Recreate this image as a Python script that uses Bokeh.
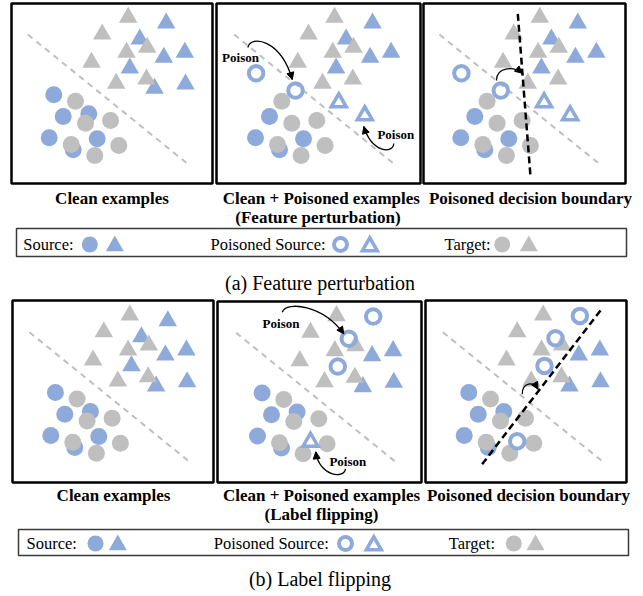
from bokeh.plotting import figure
from bokeh.models import Range1d, Arrow, NormalHead
from bokeh.embed import file_html
from bokeh.resources import INLINE
from bokeh.core.properties import value

BLUE = "#8eaadb"
GRAY = "#bfbfbf"
SERIF = value("Liberation Serif")

# ---------------- data (panel-local pixel units) ----------------
target_tri_x = [116.7, 90.7, 115.0, 135.7, 80.0, 104.7, 135.0]
target_tri_y = [14.0, 30.7, 49.0, 44.0, 59.0, 80.0, 75.7]
source_tri_x = [154.7, 128.3, 152.3, 173.3, 118.3, 143.0, 174.0]
source_tri_y = [19.7, 35.7, 54.0, 49.0, 64.7, 85.0, 80.7]
source_circ_x = [42.3, 51.7, 77.3, 37.7, 85.7, 61.7]
source_circ_y = [91.3, 113.0, 110.3, 134.3, 135.3, 146.3]
target_circ_x = [64.0, 74.0, 99.0, 59.7, 107.3, 83.3]
target_circ_y = [97.7, 119.7, 117.0, 141.0, 142.0, 152.0]
clean_boundary_x = [16.3, 177.3]
clean_boundary_y = [31.0, 161.3]

# feature perturbation
fp_removed_circ = [0, 2]
fp_removed_tri = [5, 6]
fp_ring_circ_x = [38.3, 77.7]
fp_ring_circ_y = [69.7, 87.0]
fp_ring_tri_x = [121.0, 147.0]
fp_ring_tri_y = [99.0, 112.0]
fp_boundary_x = [94.7, 107.4]
fp_boundary_y = [10.3, 173.0]

# label flipping
lf_removed_tri = [0, 1, 4]
lf_removed_circ = [4]
lf_ring_circ_x = [153.4, 129.0, 118.0]
lf_ring_circ_y = [14.7, 37.0, 64.7]
lf_ring_tri_x = [90.7]
lf_ring_tri_y = [140.0]
lf_boundary_x = [174.0, 53.3]
lf_boundary_y = [9.3, 166.0]

# curved arrows: (x0, y0, cx0, cy0, cx1, cy1, x1, y1)
fp_arrows = [(30, 44, 33, 31, 63, 36, 74.5, 76), (176, 140, 175, 151, 154, 149, 146, 123)]
fp_shift_arrow = (73.5, 77, 73, 64, 90, 62, 99, 69.7)
lf_arrows = [(62.4, 10.4, 67, -1, 103, 3, 124, 32), (125.7, 167, 124, 178, 99, 174, 96, 150)]
lf_shift_arrow = (95.7, 93, 96, 81, 107, 80, 111.5, 88)
fp_poison_labels = [(22.7, 54.3), (178.0, 131.3)]
lf_poison_labels = [(61.2, 22.0), (128.0, 159.4)]

titles_top = ["Clean examples", "Clean + Poisoned examples", "Poisoned decision boundary"]
subtitle_top = "(Feature perturbation)"
subtitle_bottom = "(Label flipping)"
caption_top = "(a)  Feature perturbation"
caption_bottom = "(b)  Label flipping"
legend_labels = ["Source:", "Poisoned Source:", "Target:"]

# ---------------- layout ----------------
frames = [(11, 212, 3, 183), (216, 420, 3, 183), (423, 625, 3, 183),
          (12, 213, 300, 482), (217, 421, 301, 482), (425, 626, 300, 482)]
origins = [(11, 3), (217.3, 3), (422.6, 3), (12.6, 300.7), (219.3, 301.3), (426, 300.7)]

p = figure(width=643, height=596, x_range=Range1d(0, 643), y_range=Range1d(596, 0),
           output_backend="svg", toolbar_location=None, min_border=0,
           x_axis_location=None, y_axis_location=None,
           styles={"position": "absolute", "left": "0px", "top": "0px"})
p.grid.visible = False
p.outline_line_color = None
p.background_fill_color = "white"


def keep(xs, ys, removed):
    return ([x for i, x in enumerate(xs) if i not in removed],
            [y for i, y in enumerate(ys) if i not in removed])


def sh(xs, ys, o):
    return [x + o[0] for x in xs], [y + o[1] for y in ys]


def scene(o, rem_c=(), rem_t=(), ring_c=None, ring_t=None):
    x, y = sh(clean_boundary_x, clean_boundary_y, o)
    p.line(x, y, line_color=GRAY, line_width=2, line_dash="6 5")
    cx, cy = keep(source_circ_x, source_circ_y, rem_c)
    x, y = sh(cx, cy, o)
    p.scatter(x, y, marker="circle", size=17, fill_color=BLUE, line_color=None)
    tx, ty = keep(source_tri_x, source_tri_y, rem_t)
    x, y = sh(tx, ty, o)
    p.scatter(x, y, marker="triangle", size=18.5, fill_color=BLUE, line_color=None)
    x, y = sh(target_circ_x, target_circ_y, o)
    p.scatter(x, y, marker="circle", size=17, fill_color=GRAY, line_color=None)
    x, y = sh(target_tri_x, target_tri_y, o)
    p.scatter(x, y, marker="triangle", size=18.5, fill_color=GRAY, line_color=None)
    if ring_c is not None:
        x, y = sh(ring_c[0], ring_c[1], o)
        p.scatter(x, y, marker="circle", size=14.5, fill_color=None, line_color=BLUE, line_width=4)
    if ring_t is not None:
        x, y = sh(ring_t[0], ring_t[1], o)
        p.scatter(x, y, marker="triangle", size=15, fill_color=None, line_color=BLUE,
                  line_width=3.5, line_join="miter")


def curve(o, a, lw=1.3):
    x0, y0, cx0, cy0, cx1, cy1, x1, y1 = a
    ox, oy = o
    p.bezier(x0=[x0 + ox], y0=[y0 + oy], x1=[x1 + ox], y1=[y1 + oy],
             cx0=[cx0 + ox], cy0=[cy0 + oy], cx1=[cx1 + ox], cy1=[cy1 + oy],
             line_color="black", line_width=lw)
    dx, dy = x1 - cx1, y1 - cy1
    n = (dx * dx + dy * dy) ** 0.5
    dx, dy = dx / n, dy / n
    p.add_layout(Arrow(x_start=x1 + ox - 3 * dx, y_start=y1 + oy - 3 * dy,
                       x_end=x1 + ox, y_end=y1 + oy, line_width=lw,
                       end=NormalHead(size=7, fill_color="black", line_color="black", line_width=1)))


def poison_text(o, labels):
    p.text([l[0] + o[0] for l in labels], [l[1] + o[1] for l in labels], text=["Poison"] * len(labels),
           text_font=SERIF, text_font_style="bold", text_font_size="13px",
           text_align="center", text_baseline="middle", text_color="black")


# frames
for (l, r, t, b) in frames:
    p.quad(left=[l], right=[r], top=[t], bottom=[b], fill_color=None,
           line_color="black", line_width=2.5)

# row 1: feature perturbation
scene(origins[0])
scene(origins[1], fp_removed_circ, fp_removed_tri, (fp_ring_circ_x, fp_ring_circ_y), (fp_ring_tri_x, fp_ring_tri_y))
for a in fp_arrows:
    curve(origins[1], a)
poison_text(origins[1], fp_poison_labels)
scene(origins[2], fp_removed_circ, fp_removed_tri, (fp_ring_circ_x, fp_ring_circ_y), (fp_ring_tri_x, fp_ring_tri_y))
x, y = sh(fp_boundary_x, fp_boundary_y, origins[2])
p.line(x, y, line_color="black", line_width=2.5, line_dash="7 4")
curve(origins[2], fp_shift_arrow, lw=1.2)

# row 2: label flipping
scene(origins[3])
scene(origins[4], lf_removed_circ, lf_removed_tri, (lf_ring_circ_x, lf_ring_circ_y), (lf_ring_tri_x, lf_ring_tri_y))
for a in lf_arrows:
    curve(origins[4], a)
poison_text(origins[4], lf_poison_labels)
scene(origins[5], lf_removed_circ, lf_removed_tri,
      (lf_ring_circ_x + lf_ring_tri_x, lf_ring_circ_y + lf_ring_tri_y), None)
x, y = sh(lf_boundary_x, lf_boundary_y, origins[5])
p.line(x, y, line_color="black", line_width=2.5, line_dash="7 4")
curve(origins[5], lf_shift_arrow, lw=1.2)

# titles
title_kw = dict(text_font=SERIF, text_font_style="bold", text_font_size="17px",
                text_align="center", text_baseline="middle", text_color="black")
p.text([111.5, 320.8, 530], [198, 198, 198], text=titles_top, **title_kw)
p.text([317.5], [217], text=[subtitle_top], **title_kw)
p.text([113, 321, 528], [495, 495, 495], text=titles_top, **title_kw)
p.text([321], [514], text=[subtitle_bottom], **title_kw)

# legends
leg_kw = dict(text_font=SERIF, text_font_size="16.5px", text_align="left",
              text_baseline="middle", text_color="black")
legend_rows = [
    dict(box=(16, 626, 228, 256), y=244, tx=[22.7, 210, 444], m=[89.3, 114.3, 340, 369.3, 501.7, 528.3]),
    dict(box=(18, 628, 529, 555), y=543, tx=[26, 213.3, 448.3], m=[95, 117.3, 345, 373.3, 513.3, 535]),
]
for row in legend_rows:
    l, r, t, b = row["box"]
    p.quad(left=[l], right=[r], top=[t], bottom=[b], fill_color=None,
           line_color="#3a3a3a", line_width=1.5)
    yy = row["y"]
    p.text(row["tx"], [yy] * 3, text=legend_labels, **leg_kw)
    m = row["m"]
    p.scatter([m[0]], [yy], marker="circle", size=16, fill_color=BLUE, line_color=None)
    p.scatter([m[1]], [yy + 1.5], marker="triangle", size=18, fill_color=BLUE, line_color=None)
    p.scatter([m[2]], [yy], marker="circle", size=13, fill_color=None, line_color=BLUE, line_width=4)
    p.scatter([m[3]], [yy + 2], marker="triangle", size=15, fill_color=None, line_color=BLUE,
              line_width=3.5, line_join="miter")
    p.scatter([m[4]], [yy], marker="circle", size=16, fill_color=GRAY, line_color=None)
    p.scatter([m[5]], [yy + 1.5], marker="triangle", size=18, fill_color=GRAY, line_color=None)

cap_kw = dict(text_font=SERIF, text_font_size="20px", text_align="center",
              text_baseline="middle", text_color="black")
p.text([322], [282], text=[caption_top], **cap_kw)
p.text([322], [578], text=[caption_bottom], **cap_kw)

open("out.html", "w").write(file_html(p, INLINE))
